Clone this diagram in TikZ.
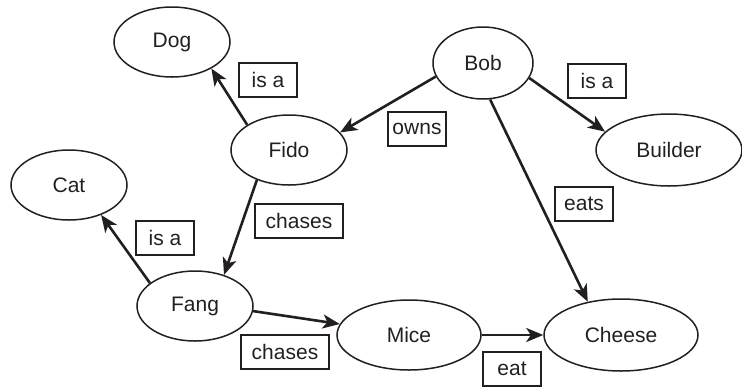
\documentclass[tikz,border=0pt]{standalone}
\usepackage{fontspec}
\setmainfont{Liberation Sans}
\usetikzlibrary{arrows.meta,shapes.geometric}
\definecolor{ink}{HTML}{231F20}
\tikzset{
  concept/.style={ellipse, draw=ink, line width=1.5pt, inner sep=0pt, text=ink,
    font=\fontsize{21}{24}\selectfont},
  rel/.style={rectangle, draw=ink, line width=1.6pt, inner xsep=2pt, inner ysep=0pt,
    minimum width=58pt, minimum height=34pt, text=ink, font=\fontsize{21}{24}\selectfont},
  link/.style={draw=ink, line width=2.6pt, -{Stealth[length=17pt,width=14pt,inset=4.5pt]}}
}
\begin{document}
\begin{tikzpicture}[x=1pt,y=1pt]
\useasboundingbox (0,0) rectangle (742,-389);
% concepts
\node[concept, minimum width=116pt, minimum height=70pt] (dog) at (172,-42) {Dog};
\node[concept, minimum width=100pt, minimum height=72pt] (bob) at (483,-63) {Bob};
\node[concept, minimum width=116pt, minimum height=70pt] (fido) at (289,-150) {Fido};
\node[concept, minimum width=146pt, minimum height=72pt] (builder) at (669,-150) {Builder};
\node[concept, minimum width=116pt, minimum height=70pt] (cat) at (69,-185) {Cat};
\node[concept, minimum width=116pt, minimum height=70pt] (fang) at (195,-306) {Fang};
\node[concept, minimum width=144pt, minimum height=70pt] (mice) at (409,-335) {Mice};
\node[concept, minimum width=154pt, minimum height=72pt] (cheese) at (621,-335) {Cheese};
% relation labels
\node[rel] (l1) at (268,-80) {is a};
\node[rel] (l2) at (417,-129) {owns};
\node[rel] (l3) at (597,-81) {is a};
\node[rel] (l4) at (584,-204) {eats};
\node[rel, minimum width=88pt] (l5) at (299,-221) {chases};
\node[rel] (l6) at (165,-238) {is a};
\node[rel, minimum width=88pt] (l7) at (285,-352) {chases};
\node[rel] (l8) at (512,-369) {eat};
% links
\draw[link] (fido.149.7) -- (dog.-34);
\draw[link] (bob.-164) -- (fido.19);
\draw[link] (bob.-18) -- (builder.164);
\draw[link] (bob.-79) -- (cheese.135);
\draw[link] (fido.-137) -- (fang.47);
\draw[link] (fang.153) -- (cat.-43);
\draw[link] (fang.-5) -- (mice.171);
\draw[link] (mice.east) -- (cheese.west);
\end{tikzpicture}
\end{document}
